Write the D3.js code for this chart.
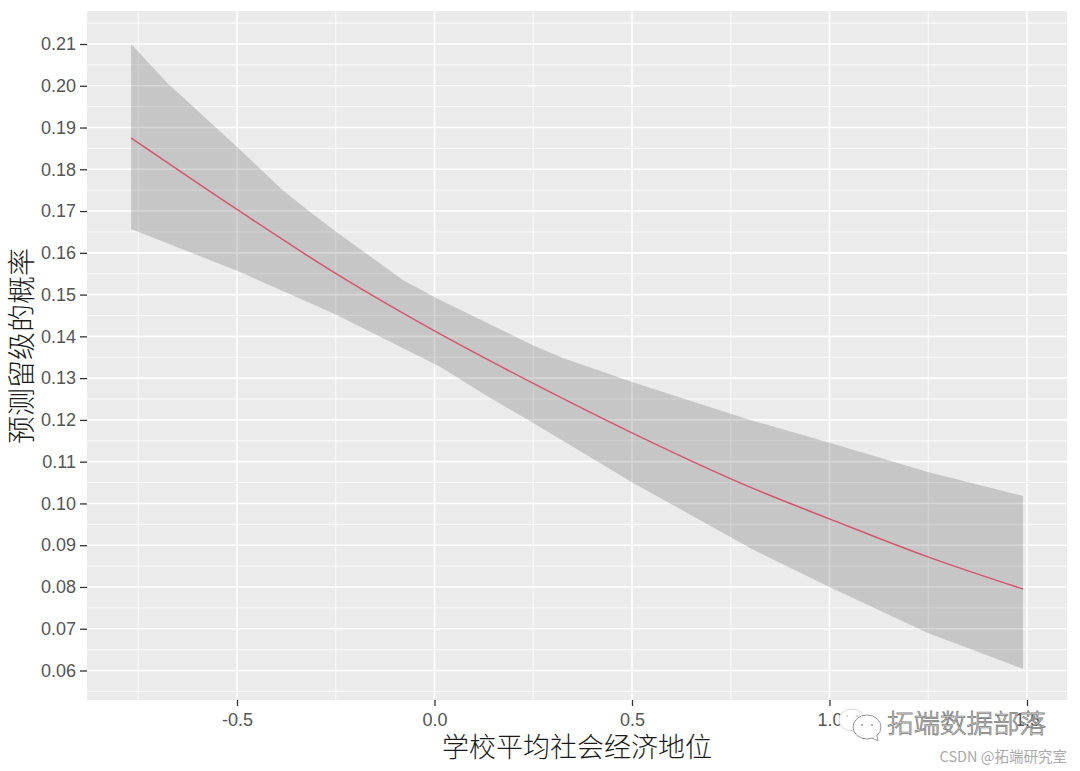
<!DOCTYPE html>
<html><head><meta charset="utf-8">
<script src="https://cdn.jsdelivr.net/npm/d3@7"></script>
<style>html,body{margin:0;padding:0;background:#fff}svg{display:block}</style>
</head><body><svg id="c" width="1080" height="771"></svg>
<script>
const upperX = [-0.768,-0.677,-0.497,-0.384,-0.315,-0.244,-0.080,0.014,0.249,0.325,0.5,0.799,1.0,1.249,1.49];
const upperY = [0.2100,0.2007,0.1851,0.1750,0.1698,0.1647,0.1535,0.1487,0.1379,0.1348,0.1291,0.1200,0.1145,0.1075,0.1018];
const lowerX = [-0.768,-0.497,-0.247,0.014,0.128,0.249,0.5,0.799,1.0,1.249,1.49];
const lowerY = [0.1657,0.1556,0.1451,0.1327,0.1260,0.1193,0.1051,0.0893,0.0800,0.0690,0.0604];
const centreX = [-0.768,-0.497,-0.244,0,0.249,0.5,0.799,1.0,1.249,1.49];
const centreY = [0.1875,0.1702,0.1547,0.1413,0.1288,0.1169,0.1039,0.0963,0.0872,0.0795];
const xTicks = [-0.5,0,0.5,1,1.5];
const xMinor = [-0.75,-0.25,0.25,0.75,1.25];
const yTicks = d3.range(6,22).map(d=>d/100);
const yMinor = d3.range(5,22).map(d=>(d+0.5)/100);
const xTitle = "学校平均社会经济地位";
const yTitle = "预测留级的概率";

const P={l:87,r:1067,t:11,b:700};
const svg=d3.select("#c");
const x=d3.scaleLinear().domain([0,1]).range([434.5,829.5]);
const y=d3.scaleLinear().domain([0.06,0.21]).range([670.5,44]);
x.domain([x.invert(P.l),x.invert(P.r)]).range([P.l,P.r]);
y.domain([y.invert(P.b),y.invert(P.t)]).range([P.b,P.t]);

svg.append("rect").attr("x",P.l).attr("y",P.t).attr("width",P.r-P.l).attr("height",P.b-P.t).attr("fill","#ebebeb");
const grid=svg.append("g").attr("stroke","#fff").attr("fill","none");
grid.selectAll(".ym").data(yMinor).join("line").attr("x1",P.l).attr("x2",P.r).attr("y1",d=>y(d)).attr("y2",d=>y(d)).attr("stroke-width",0.8);
grid.selectAll(".xm").data(xMinor).join("line").attr("y1",P.t).attr("y2",P.b).attr("x1",d=>x(d)).attr("x2",d=>x(d)).attr("stroke-width",0.8);
grid.selectAll(".yM").data(yTicks).join("line").attr("x1",P.l).attr("x2",P.r).attr("y1",d=>y(d)).attr("y2",d=>y(d)).attr("stroke-width",1.6);
grid.selectAll(".xM").data(xTicks).join("line").attr("y1",P.t).attr("y2",P.b).attr("x1",d=>x(d)).attr("x2",d=>x(d)).attr("stroke-width",1.6);

const lin=d3.line().x(d=>x(d[0])).y(d=>y(d[1]));
const band=[...upperX.map((v,i)=>[v,upperY[i]]),...lowerX.map((v,i)=>[v,lowerY[i]]).reverse()];
svg.append("path").datum(band).attr("fill","#333").attr("fill-opacity",0.2).attr("d",d=>lin(d)+"Z");
svg.append("path").datum(centreX.map((v,i)=>[v,centreY[i]])).attr("fill","none").attr("stroke","#d4566e").attr("stroke-width",1.5)
  .attr("d",d3.line().curve(d3.curveMonotoneX).x(d=>x(d[0])).y(d=>y(d[1])));

const font="'Liberation Sans',Arial,sans-serif";
const ax=svg.append("g").attr("transform",`translate(0,${P.b})`)
  .call(d3.axisBottom(x).tickValues(xTicks).tickFormat(d=>d.toFixed(1)).tickSize(6).tickPadding(7));
const ay=svg.append("g").attr("transform",`translate(${P.l},0)`)
  .call(d3.axisLeft(y).tickValues(yTicks).tickFormat(d=>d.toFixed(2)).tickSize(7).tickPadding(4));
[ax,ay].forEach(a=>{a.select(".domain").remove();
  a.selectAll("line").attr("stroke","#333").attr("stroke-width",1.3);
  a.selectAll("text").attr("fill","#555").attr("font-family",font).attr("font-size",18);});

const cjk="'Noto Sans CJK SC','Noto Sans CJK JP',sans-serif";
svg.append("text").attr("x",577).attr("y",757).attr("text-anchor","middle")
  .attr("font-family",cjk).attr("font-weight",300).attr("font-size",27).attr("fill","#1a1a1a").text(xTitle);
svg.append("text").attr("transform","translate(32,346) rotate(-90)").attr("text-anchor","middle")
  .attr("font-family",cjk).attr("font-weight",300).attr("font-size",28).attr("fill","#1a1a1a").text(yTitle);

// watermark
const wm=svg.append("g").attr("fill","#fff");
wm.append("ellipse").attr("cx",852).attr("cy",720).attr("rx",13).attr("ry",11).attr("stroke","#d8d8d8");
wm.append("ellipse").attr("cx",867).attr("cy",727).attr("rx",14).attr("ry",12).attr("stroke","#999");
wm.append("path").attr("d","M872 738 L878 741 L877 735").attr("stroke","#999");
[[862,725],[872,725]].forEach(p=>wm.append("circle").attr("cx",p[0]).attr("cy",p[1]).attr("r",1).attr("fill","#999"));
[[847,716],[857,716]].forEach(p=>wm.append("circle").attr("cx",p[0]).attr("cy",p[1]).attr("r",1).attr("fill","#ccc"));
svg.append("text").attr("x",887).attr("y",733).attr("font-family",cjk).attr("font-weight",300).attr("font-size",26.5)
  .attr("fill","#fff").attr("stroke","#808080").attr("stroke-width",0.8).style("text-rendering","geometricPrecision").text("拓端数据部落");
svg.append("text").attr("x",1067).attr("y",762).attr("text-anchor","end").attr("font-family",cjk)
  .attr("font-size",14.5).attr("fill","#aaa").text("CSDN @拓端研究室");
</script></body></html>
